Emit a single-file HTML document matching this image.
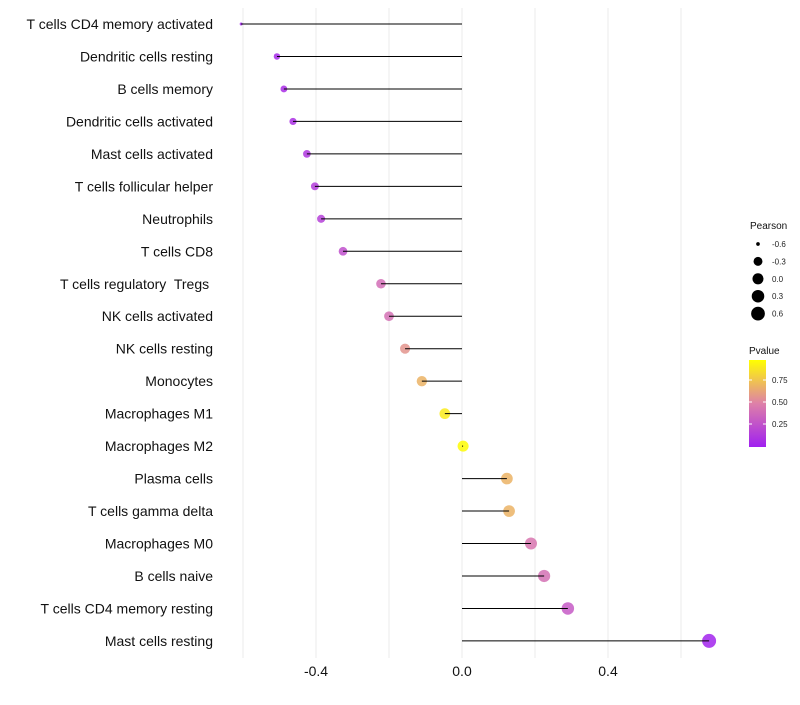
<!DOCTYPE html>
<html><head><meta charset="utf-8"><style>
body{margin:0;background:#fff;font-family:"Liberation Sans",sans-serif}
svg text{font-family:"Liberation Sans",sans-serif;white-space:pre}
</style></head><body>
<svg id="chart" width="800" height="700"></svg>
<script>
const categories=["T cells CD4 memory activated","Dendritic cells resting","B cells memory","Dendritic cells activated","Mast cells activated","T cells follicular helper","Neutrophils","T cells CD8","T cells regulatory  Tregs ","NK cells activated","NK cells resting","Monocytes","Macrophages M1","Macrophages M2","Plasma cells","T cells gamma delta","Macrophages M0","B cells naive","T cells CD4 memory resting","Mast cells resting"];
const pearson=[-0.605,-0.507,-0.488,-0.463,-0.425,-0.403,-0.386,-0.326,-0.222,-0.2,-0.156,-0.11,-0.047,0.003,0.123,0.129,0.189,0.225,0.29,0.677];
const pvalues=[0.02,0.05,0.07,0.08,0.12,0.15,0.17,0.25,0.4,0.42,0.58,0.7,0.92,0.99,0.7,0.7,0.45,0.42,0.3,0.02];
const xTicks=[-0.4,0,0.4];
const xTickLabels=["-0.4","0.0","0.4"];
const gridVals=[-0.6,-0.2,0.2,0.6];
const legendPearson=[-0.6,-0.3,0,0.3,0.6];
const legendP=[0.25,0.5,0.75];
const NS="http://www.w3.org/2000/svg";
const svg=document.getElementById('chart');
const x=v=>462+v*365;
const y=i=>24+i*32.47;
const r=v=>{const t=Math.max(0,(v+0.605)/1.282);return Math.sqrt(2.25+46.75*Math.pow(t,0.675));};
function col(p){const s=[[160,32,240],[222,128,168],[255,255,0]];let a,b,t;if(p<0.5){a=s[0];b=s[1];t=p/0.5}else{a=s[1];b=s[2];t=(p-0.5)/0.5}return `rgb(${a.map((c,k)=>Math.round(c+(b[k]-c)*t)).join(',')})`;}
const py=p=>446-p*88;
function el(t,at,parent){const e=document.createElementNS(NS,t);for(const k in at)e.setAttribute(k,at[k]);(parent||svg).appendChild(e);return e;}
const defs=el('defs',{});
const g=el('linearGradient',{id:'pg',x1:0,y1:1,x2:0,y2:0},defs);
[0,0.25,0.5,0.75,1].forEach(o=>el('stop',{offset:o,'stop-color':col(o)},g));
gridVals.concat(xTicks).forEach(v=>{const l=el('line',{x1:x(v),x2:x(v),y1:8,y2:658,stroke:'#ebebeb','stroke-width':1});

});
xTicks.forEach((v,i)=>{const t=el('text',{x:x(v),y:676,'text-anchor':'middle','font-size':14,fill:'#111'});t.textContent=xTickLabels[i];

});
categories.forEach((c,i)=>{
const t=el('text',{x:213,y:y(i)+5,'text-anchor':'end','font-size':14,fill:'#111'});t.textContent=c;


const d=el('circle',{cx:x(pearson[i]),cy:y(i),r:r(pearson[i]),fill:col(pvalues[i]),'fill-opacity':0.85});


const l=el('line',{x1:x(0),x2:x(pearson[i]),y1:y(i),y2:y(i),stroke:'#000','stroke-width':1});


});
let t=el('text',{x:750,y:229,'font-size':10,fill:'#111'});t.textContent="Pearson";


legendPearson.forEach((v,i)=>{const cy=244+i*17.4;const c=el('circle',{cx:758,cy:cy,r:r(v),fill:'#000'});


const tt=el('text',{x:772,y:cy+3,'font-size':8,fill:'#222'});tt.textContent=v.toFixed(1);

});
t=el('text',{x:749,y:354,'font-size':10,fill:'#111'});t.textContent="Pvalue";


const bar=el('rect',{x:749,y:360,width:17,height:87,fill:'url(#pg)'});


legendP.forEach(p=>{el('line',{x1:749,x2:752,y1:py(p),y2:py(p),stroke:'#fff'});el('line',{x1:763,x2:766,y1:py(p),y2:py(p),stroke:'#fff'});
const tt=el('text',{x:772,y:py(p)+3,'font-size':8,fill:'#222'});tt.textContent=p.toFixed(2);

});
</script>
</body></html>
